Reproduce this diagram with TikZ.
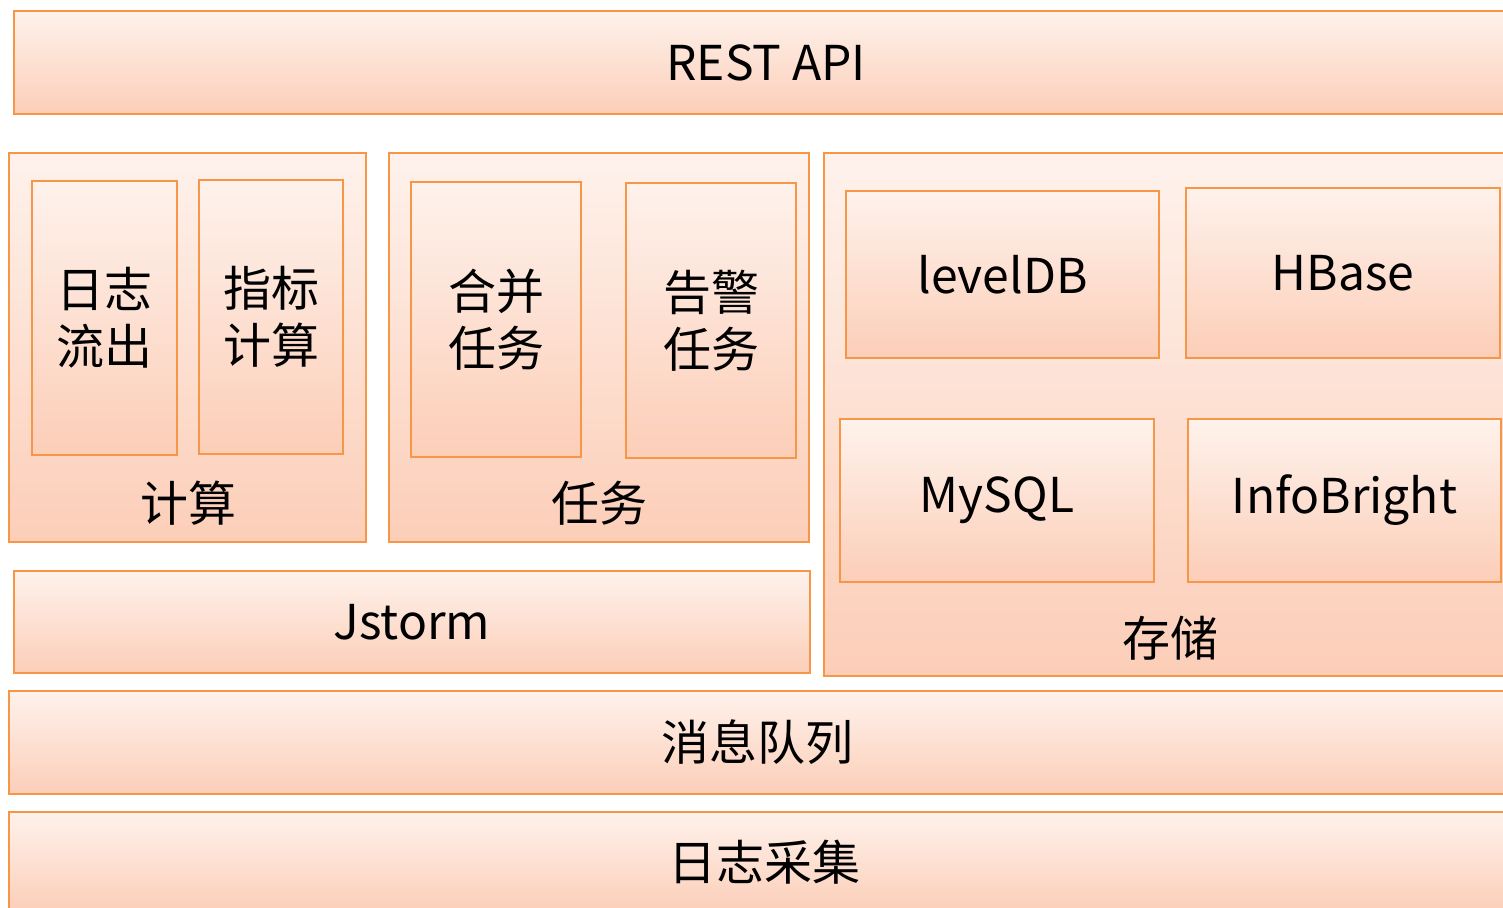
\documentclass[tikz,border=0pt]{standalone}
\usepackage{fontspec}
\setmainfont{Noto Sans CJK SC}
\definecolor{blkline}{RGB}{247,150,70}
\definecolor{blktop}{RGB}{254,242,236}
\definecolor{blkbot}{RGB}{252,206,184}
\tikzset{
  blk/.style 2 args={draw=blkline, line width=1pt, top color=blktop, bottom color=blkbot,
    minimum width=#1*0.5pt, minimum height=#2*0.5pt, inner sep=0pt, align=center,
    font=\fontsize{24}{28.5}\selectfont},
  lbl/.style={font=\fontsize{24}{28.5}\selectfont}
}
\begin{document}
\begin{tikzpicture}[x=0.5pt,y=-0.5pt]
  \useasboundingbox (0,0) rectangle (1503,908);
  \clip (0,0) rectangle (1503,908);

  % top layer
  \node[blk={1504}{103}] (rest) at (766,62.5) {REST API};

  % computing
  \node[blk={357}{389}] (calc) at (187.5,347.5) {};
  \node[blk={145}{274}] (logout) at (104.5,318) {日志\\流出};
  \node[blk={144}{274}] (metric) at (271,317) {指标\\计算};
  \node[lbl] (calclbl) at (188,503) {计算};

  % tasks
  \node[blk={420}{389}] (task) at (599,347.5) {};
  \node[blk={170}{275}] (merge) at (496,319.5) {合并\\任务};
  \node[blk={170}{275}] (alarm) at (711,320.5) {告警\\任务};
  \node[lbl] (tasklbl) at (599,503) {任务};

  % storage
  \node[blk={692}{523}] (store) at (1170,414.5) {};
  \node[blk={313}{167}] (leveldb) at (1002.5,274.5) {levelDB};
  \node[blk={314}{170}] (hbase) at (1343,273) {HBase};
  \node[blk={314}{163}] (mysql) at (997,500.5) {MySQL};
  \node[blk={313}{163}] (infobright) at (1344.5,500.5) {InfoBright};
  \node[lbl] (storelbl) at (1170,638) {存储};

  % bottom layers
  \node[blk={796}{102}] (jstorm) at (412,622) {Jstorm};
  \node[blk={1496}{103}] (mq) at (757,742.5) {消息队列};
  \node[blk={1510}{100}] (collect) at (764,862) {日志采集};
\end{tikzpicture}
\end{document}
